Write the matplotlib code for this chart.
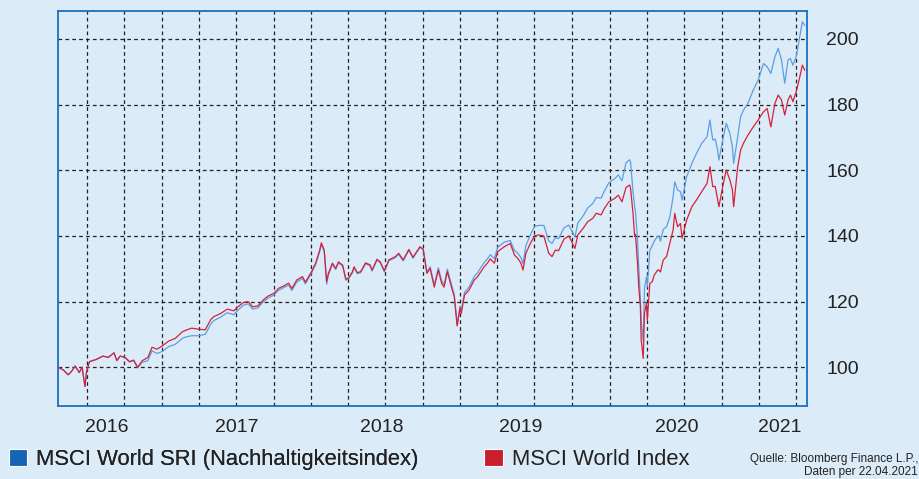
import matplotlib
matplotlib.use("Agg")
import matplotlib.pyplot as plt
import matplotlib.dates as mdates
from matplotlib.patches import Patch
import pandas as pd

plt.rcParams["font.family"] = ["Liberation Sans", "DejaVu Sans"]

# values (indexed, 22.04.2016 = 100)
dates = [
    "2016-04-22", "2016-05-05", "2016-05-17", "2016-05-25", "2016-06-03", "2016-06-13",
    "2016-06-20", "2016-06-27", "2016-07-01", "2016-07-08", "2016-07-25", "2016-08-10",
    "2016-08-23", "2016-09-06", "2016-09-13", "2016-09-21", "2016-10-03", "2016-10-14",
    "2016-10-24", "2016-11-03", "2016-11-14", "2016-11-28", "2016-12-08", "2016-12-20",
    "2017-01-02", "2017-01-18", "2017-02-03", "2017-02-20", "2017-03-03", "2017-03-15",
    "2017-03-31", "2017-04-17", "2017-05-01", "2017-05-08", "2017-05-25", "2017-06-10",
    "2017-06-26", "2017-07-06", "2017-07-19", "2017-07-31", "2017-08-11", "2017-08-24",
    "2017-09-06", "2017-09-18", "2017-10-02", "2017-10-13", "2017-10-25", "2017-11-07",
    "2017-11-15", "2017-11-27", "2017-12-11", "2017-12-18", "2018-01-02", "2018-01-12",
    "2018-01-22", "2018-01-26", "2018-02-02", "2018-02-08", "2018-02-12", "2018-02-22",
    "2018-03-02", "2018-03-09", "2018-03-19", "2018-03-27", "2018-04-03", "2018-04-12",
    "2018-04-16", "2018-04-24", "2018-05-02", "2018-05-14", "2018-05-25", "2018-05-30",
    "2018-06-11", "2018-06-19", "2018-06-29", "2018-07-10", "2018-07-26", "2018-08-03",
    "2018-08-14", "2018-08-28", "2018-09-07", "2018-09-24", "2018-10-02", "2018-10-11",
    "2018-10-19", "2018-10-29", "2018-11-08", "2018-11-16", "2018-11-22", "2018-11-30",
    "2018-12-11", "2018-12-17", "2018-12-24", "2018-12-31", "2019-01-03", "2019-01-11",
    "2019-01-22", "2019-02-04", "2019-02-12", "2019-02-20", "2019-02-28", "2019-03-08",
    "2019-03-15", "2019-03-25", "2019-04-02", "2019-04-18", "2019-05-03", "2019-05-13",
    "2019-05-21", "2019-05-29", "2019-06-03", "2019-06-10", "2019-06-21", "2019-07-01",
    "2019-07-11", "2019-07-24", "2019-08-05", "2019-08-13", "2019-08-21", "2019-08-29",
    "2019-09-11", "2019-09-23", "2019-10-08", "2019-10-15", "2019-10-28", "2019-11-08",
    "2019-11-21", "2019-11-29", "2019-12-11", "2019-12-19", "2019-12-30", "2020-01-13",
    "2020-01-22", "2020-01-31", "2020-02-10", "2020-02-19", "2020-02-21", "2020-02-27",
    "2020-03-02", "2020-03-04", "2020-03-09", "2020-03-12", "2020-03-16", "2020-03-18",
    "2020-03-23", "2020-03-26", "2020-03-31", "2020-04-02", "2020-04-08", "2020-04-14",
    "2020-04-19", "2020-04-22", "2020-04-27", "2020-04-30", "2020-05-04", "2020-05-11",
    "2020-05-19", "2020-05-27", "2020-06-04", "2020-06-08", "2020-06-15", "2020-06-22",
    "2020-06-26", "2020-07-07", "2020-07-20", "2020-07-31", "2020-08-13", "2020-08-26",
    "2020-09-02", "2020-09-09", "2020-09-15", "2020-09-21", "2020-09-24", "2020-10-05",
    "2020-10-12", "2020-10-21", "2020-10-27", "2020-10-30", "2020-11-09", "2020-11-16",
    "2020-11-23", "2020-12-04", "2020-12-17", "2020-12-29", "2021-01-11", "2021-01-20",
    "2021-01-29", "2021-02-08", "2021-02-16", "2021-02-24", "2021-03-04", "2021-03-12",
    "2021-03-18", "2021-03-24", "2021-04-01", "2021-04-09", "2021-04-16", "2021-04-22",
]

world = [
    100.0, 99.2, 97.7, 98.7, 100.4, 98.4,
    100.0, 94.1, 98.7, 101.7, 102.4, 103.4,
    103.0, 104.4, 102.0, 103.4, 103.0, 101.7,
    102.2, 100.0, 102.0, 103.0, 106.1, 105.5,
    106.5, 108.0, 108.8, 110.8, 111.4, 111.9,
    111.6, 111.4, 114.6, 115.4, 116.4, 117.7,
    117.2, 118.4, 119.7, 120.0, 118.4, 118.7,
    120.5, 121.7, 122.5, 124.0, 124.7, 125.6,
    124.0, 126.6, 127.6, 125.9, 129.1, 131.7,
    135.7, 137.9, 135.7, 126.1, 128.5, 131.7,
    130.1, 132.1, 131.1, 126.8, 127.3, 129.1,
    130.6, 128.8, 129.1, 131.8, 131.2, 129.6,
    132.9, 132.1, 129.4, 132.7, 133.7, 134.7,
    132.7, 135.9, 133.5, 136.7, 135.9, 128.6,
    130.1, 124.4, 129.6, 125.6, 124.4, 129.1,
    124.0, 121.5, 112.6, 118.0, 116.4, 122.0,
    123.5, 126.6, 127.6, 129.1, 130.6, 131.7,
    133.0, 131.7, 135.2, 136.7, 137.7, 134.2,
    133.2, 131.7, 129.6, 134.7, 137.7, 140.0,
    140.3, 140.0, 134.7, 133.7, 135.7, 135.5,
    139.0, 140.0, 136.2, 140.3, 142.3, 144.3,
    145.4, 146.9, 146.4, 148.4, 150.4, 151.4,
    152.4, 150.4, 154.8, 155.5, 154.5, 146.9,
    139.8, 140.5, 131.7, 124.5, 118.4, 108.3,
    102.7, 116.4, 119.5, 114.4, 125.5, 126.1,
    128.1, 128.6, 129.6, 129.6, 129.0, 132.7,
    133.7, 137.7, 141.8, 146.9, 142.8, 143.8,
    139.3, 144.8, 148.9, 150.9, 153.5, 156.0,
    161.1, 155.0, 155.1, 150.9, 148.9, 156.0,
    160.1, 157.0, 154.0, 148.9, 161.1, 166.1,
    168.2, 170.7, 173.2, 175.3, 177.8, 178.8,
    173.2, 180.4, 182.9, 181.4, 176.8, 181.4,
    182.9, 180.9, 183.9, 188.0, 192.0, 190.5,
]

sri = [
    100.0, 99.2, 97.7, 98.7, 100.4, 98.4,
    100.0, 94.1, 98.7, 101.7, 102.4, 103.4,
    103.0, 104.4, 102.0, 103.4, 103.0, 101.6,
    102.0, 99.8, 101.5, 102.0, 105.0, 104.2,
    104.8, 106.3, 107.0, 108.8, 109.3, 109.6,
    109.6, 110.0, 113.2, 114.2, 115.3, 116.6,
    116.0, 117.4, 118.9, 119.3, 117.7, 118.1,
    119.9, 121.1, 122.0, 123.4, 124.2, 125.0,
    123.4, 126.0, 127.0, 125.4, 128.7, 131.3,
    135.2, 137.4, 135.3, 125.3, 128.0, 131.4,
    129.8, 131.8, 130.8, 126.5, 127.0, 128.8,
    130.3, 128.5, 128.8, 131.5, 130.9, 129.3,
    132.6, 131.8, 129.1, 132.4, 133.4, 134.4,
    132.4, 135.6, 133.2, 136.5, 136.0, 129.0,
    130.6, 125.0, 130.3, 126.4, 125.2, 129.9,
    124.8, 122.2, 113.0, 118.6, 117.2, 122.8,
    124.4, 127.7, 128.8, 130.4, 131.9, 133.0,
    134.3, 133.1, 136.5, 138.1, 138.6, 135.6,
    134.8, 133.4, 131.6, 137.0, 140.3, 142.8,
    143.2, 143.2, 138.5, 137.7, 139.5, 139.2,
    142.4, 143.3, 139.7, 143.9, 146.1, 148.5,
    149.9, 151.7, 151.5, 153.7, 156.2, 157.4,
    158.6, 156.8, 162.3, 163.2, 162.5, 153.5,
    148.9, 147.5, 139.0, 130.5, 121.0, 114.0,
    108.0, 124.0, 127.6, 124.5, 135.5, 137.0,
    138.4, 139.0, 139.8, 140.0, 138.4, 142.0,
    142.8, 145.8, 151.9, 156.5, 154.0, 153.5,
    150.9, 158.0, 162.1, 165.1, 168.2, 170.2,
    175.3, 169.2, 169.5, 166.1, 163.1, 170.2,
    174.3, 171.1, 167.1, 162.1, 170.2, 176.3,
    178.3, 180.4, 184.4, 187.5, 192.5, 191.5,
    189.5, 194.6, 197.1, 193.6, 186.5, 193.6,
    194.0, 192.0, 194.6, 200.2, 205.2, 204.2,
]

year_labels = ["2016", "2017", "2018", "2019", "2020", "2021"]
year_label_dates = ["2016-08-20", "2017-07-03", "2018-06-22", "2019-05-28", "2020-06-12", "2021-02-20"]
y_ticks = [100, 120, 140, 160, 180, 200]

bg = "#dcebf8"
blue = "#5b9fe2"
red = "#d5213a"
frame = "#1c6fc0"

d = pd.to_datetime(dates)

fig = plt.figure(figsize=(9.2, 4.79), dpi=100, facecolor=bg)
ax = fig.add_axes([0.063, 0.1524, 0.814, 0.8246])
ax.set_facecolor(bg)

ax.plot(d, sri, color=blue, lw=0.9, zorder=3)
ax.plot(d, world, color=red, lw=0.9, zorder=4)

ax.set_xlim(pd.Timestamp("2016-04-22"), pd.Timestamp("2021-04-27"))
ax.set_ylim(88.2, 208.5)

# quarterly grid, year labels as minor ticks
ax.xaxis.remove_overlapping_locs = False
ax.xaxis.set_major_locator(mdates.MonthLocator(bymonth=[1, 4, 7, 10]))
ax.xaxis.set_major_formatter(plt.NullFormatter())
ax.set_xticks(pd.to_datetime(year_label_dates), minor=True)
ax.set_xticklabels(year_labels, minor=True)
ax.tick_params(axis="x", which="both", length=0, pad=9, labelsize=14, colors="#222222")

ax.yaxis.tick_right()
ax.set_yticks(y_ticks)
ax.tick_params(axis="y", length=0, pad=14, labelsize=14, colors="#222222")

ax.grid(True, which="major", color="#222222", linestyle=(0, (3, 2.5)), linewidth=0.9)
for s in ax.spines.values():
    s.set_color(frame)
    s.set_linewidth(1.3)

leg1 = fig.legend(handles=[Patch(facecolor="#1565b4", edgecolor="white", linewidth=0.8)],
                  labels=["MSCI World SRI (Nachhaltigkeitsindex)"],
                  loc="center left", bbox_to_anchor=(-0.012, 0.041), frameon=False,
                  fontsize=15.8, handlelength=0.85, handleheight=0.85, handletextpad=0.4,
                  labelcolor="#222222")
fig.legend(handles=[Patch(facecolor="#c8202f", edgecolor="white", linewidth=0.8)],
           labels=["MSCI World Index"],
           loc="center left", bbox_to_anchor=(0.505, 0.041), frameon=False,
           fontsize=15.8, handlelength=0.85, handleheight=0.85, handletextpad=0.4,
           labelcolor="#222222")
fig.add_artist(leg1)

# source note in the bottom right corner
fig.text(0.998, 0.054, "Quelle: Bloomberg Finance L.P.,\nDaten per 22.04.2021",
         ha="right", va="top", fontsize=8.5, color="#222222", multialignment="right",
         linespacing=1.05, transform=fig.transFigure)

fig.savefig("out.png", dpi=100, facecolor=bg)
